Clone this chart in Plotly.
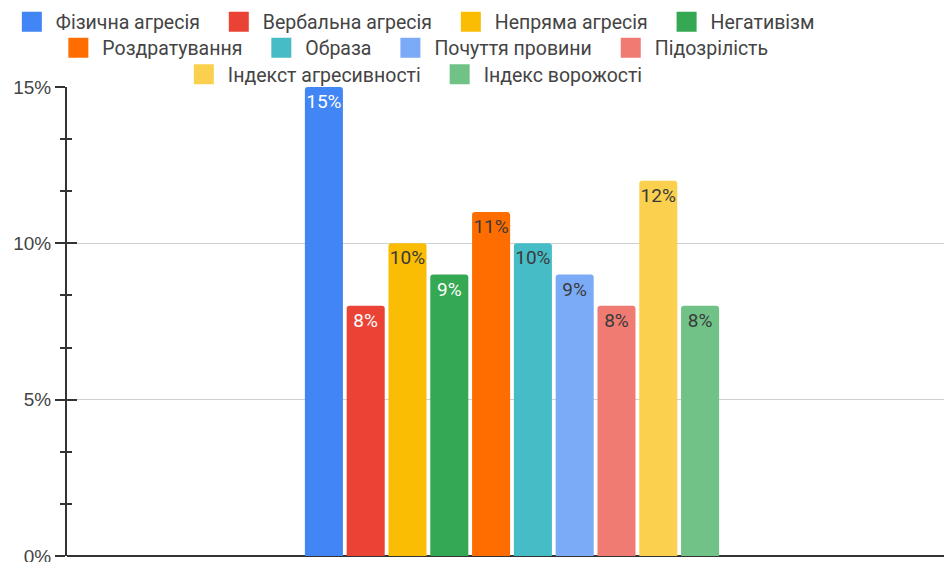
import plotly.graph_objects as go

categories = [""]
series_names = ["Фізична агресія", "Вербальна агресія", "Непряма агресія", "Негативізм",
                "Роздратування", "Образа", "Почуття провини", "Підозрілість",
                "Індекст агресивності", "Індекс ворожості"]
series_values = [15, 8, 10, 9, 11, 10, 9, 8, 12, 8]
series_colors = ["#4285F4", "#EA4335", "#FBBC04", "#34A853", "#FF6D01",
                 "#46BDC6", "#7BAAF7", "#F07B72", "#FCD04F", "#71C287"]
text_colors = ["#ffffff", "#ffffff", "#3a3a3a", "#ffffff", "#3a3a3a",
               "#3a3a3a", "#3a3a3a", "#3a3a3a", "#3a3a3a", "#3a3a3a"]
legend_rows = ["legend"] * 4 + ["legend2"] * 4 + ["legend3"] * 2
y_ticks = [0, 5, 10, 15]
y_tick_labels = ["0%", "5%", "10%", "15%"]

FONT = "Roboto, Arial, sans-serif"
AXFONT = "Liberation Sans, Arial, sans-serif"

fig = go.Figure()
for name, val, col, tcol in zip(series_names, series_values, series_colors, text_colors):
    fig.add_trace(go.Bar(
        x=categories, y=[val], name=name,
        marker=dict(color=col, line=dict(width=0)),
        text=[f"{val}%"], textposition="inside", insidetextanchor="end",
        textangle=0,
        textfont=dict(family=FONT, size=19, color=tcol),
        showlegend=False, hoverinfo="skip",
    ))

# legend entries (square swatches); trailing en space widens item spacing
for name, col, lg in zip(series_names, series_colors, legend_rows):
    fig.add_trace(go.Scatter(
        x=[None], y=[None], name=name + "\u2002", mode="markers",
        marker=dict(symbol="square", size=16, color=col, line=dict(width=4, color=col)),
        legend=lg, hoverinfo="skip",
    ))

fig.add_trace(go.Scatter(x=categories, y=[0], yaxis="y2", mode="markers",
                         marker=dict(opacity=0), showlegend=False, hoverinfo="skip"))

legend_common = dict(orientation="h", xanchor="center", x=0.4012, yanchor="middle",
                     font=dict(family=FONT, size=19.5, color="#444444"),
                     bgcolor="rgba(0,0,0,0)", itemclick=False, tracegroupgap=0,
                     itemwidth=38, itemsizing="trace")

fig.update_layout(
    width=944, height=562,
    margin=dict(l=67, r=0, t=87, b=6, autoexpand=False),
    paper_bgcolor="white", plot_bgcolor="white",
    barmode="group", bargap=0.5234, bargroupgap=0.09,
    barcornerradius=3,
    uniformtext=dict(minsize=19, mode="show"),
    font=dict(family=FONT),
    xaxis=dict(type="category", range=[-0.5074, 0.4926], showticklabels=False,
               showgrid=False, zeroline=False, showline=False, ticks="", automargin=False),
    yaxis=dict(range=[0, 15], tickvals=y_ticks, ticktext=y_tick_labels,
               showgrid=True, gridcolor="#d0d0d0", gridwidth=1,
               zeroline=True, zerolinecolor="#333333", zerolinewidth=2,
               showline=True, linecolor="#333333", linewidth=2,
               ticks="outside", ticklen=10, tickwidth=2, tickcolor="#333333",
               minor=dict(dtick=5/3, ticks="outside", ticklen=5, tickwidth=2,
                          tickcolor="#333333", showgrid=False),
               ticklabeloverflow="allow", automargin=False,
               tickfont=dict(family=AXFONT, size=19, color="#444444")),
    yaxis2=dict(overlaying="y", side="left", anchor="x", range=[0, 15],
                tickvals=y_ticks, showticklabels=False, showgrid=False, zeroline=False,
                showline=False, ticks="inside", ticklen=10, tickwidth=2, tickcolor="#333333",
                automargin=False,
                minor=dict(dtick=5/3, ticks="inside", ticklen=5, tickwidth=2,
                           tickcolor="#333333", showgrid=False)),
    legend=dict(y=1.1386, **legend_common),
    legend2=dict(y=1.0832, **legend_common),
    legend3=dict(y=1.0267, **legend_common),
    showlegend=True,
)

fig.write_html("out.html", config={"displayModeBar": False},
               post_script="document.body.style.margin='0';")
